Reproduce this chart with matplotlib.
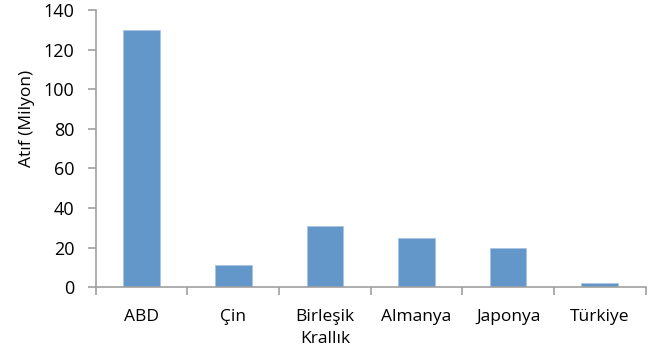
import numpy as np
import matplotlib.pyplot as plt

plt.rcParams['font.family'] = ['Open Sans', 'DejaVu Sans']

ulkeler = ['ABD', 'Çin', 'Birleşik\nKrallık', 'Almanya', 'Japonya', 'Türkiye']
atif = [130, 11, 31, 25, 20, 2]
y_ticks = [0, 20, 40, 60, 80, 100, 120, 140]

fig = plt.figure(figsize=(6.56, 3.59), dpi=100)
ax = fig.add_axes([0.146, 0.2, 0.838, 0.772])

x = np.arange(len(ulkeler))
ax.bar(x, atif, width=0.4, color='#6397ca', edgecolor='#a9c4e4', linewidth=0.6)

ax.set_xlim(-0.5, len(ulkeler) - 0.5)
ax.set_ylim(0, 140)
ax.set_yticks(y_ticks)
ax.set_xticks(x)
ax.set_xticklabels(ulkeler, fontsize=12.5, va='top', linespacing=1.45)
ax.set_xticks(np.arange(len(ulkeler) + 1) - 0.5, minor=True)
ax.tick_params(axis='x', which='major', length=0, pad=16)
ax.tick_params(axis='x', which='minor', length=5.5, color='#a0a0a0', width=1.2)
ax.tick_params(axis='y', length=5.5, color='#a0a0a0', width=1.2, labelsize=13, pad=10)
ax.set_ylabel('Atıf (Milyon)', fontsize=12.5)
ax.yaxis.set_label_coords(-0.11, 0.61)

for s in ['top', 'right']:
    ax.spines[s].set_visible(False)
for s in ['left', 'bottom']:
    ax.spines[s].set_color('#a0a0a0')
    ax.spines[s].set_linewidth(1.2)

fig.savefig('out.png', dpi=100)
